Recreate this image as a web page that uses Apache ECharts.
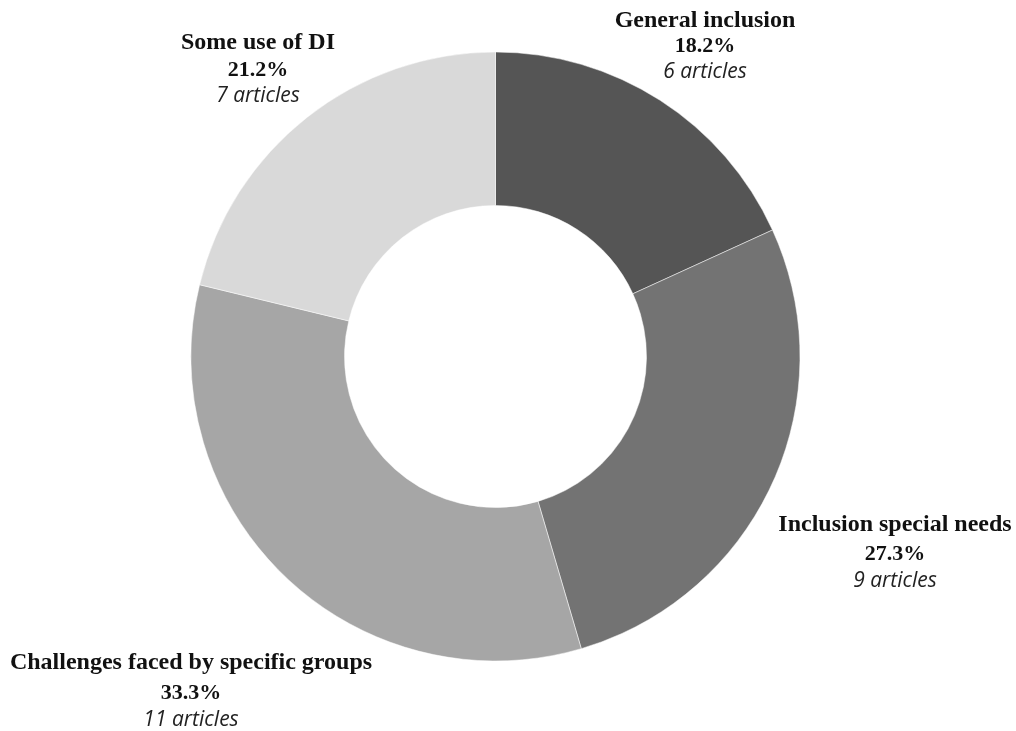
<!DOCTYPE html>
<html>
<head>
<meta charset="utf-8">
<script src="https://cdn.jsdelivr.net/npm/echarts@6/dist/echarts.min.js"></script>
<style>html,body{margin:0;padding:0;background:#fff;}#c{width:1016px;height:731px;}</style>
</head>
<body>
<div id="c"></div>
<script>
const categories = ['General inclusion', 'Inclusion special needs', 'Challenges faced by specific groups', 'Some use of DI'];
const articleCounts = [6, 9, 11, 7];
const percentLabels = ['18.2%', '27.3%', '33.3%', '21.2%'];
const sliceColors = ['#555555', '#737373', '#a6a6a6', '#d9d9d9'];
const labelSpots = [[705, 46], [895, 551], [191, 690], [258, 69]];
const lineGaps = [[27, 25], [33, 27], [32, 28], [28, 26]];

const chart = echarts.init(document.getElementById('c'), null, {renderer: 'canvas'});
const data = categories.map((name, i) => ({
  name: name,
  value: articleCounts[i],
  itemStyle: {color: sliceColors[i]},
  label: {
    rich: {
      t: {fontFamily: 'Liberation Serif', fontWeight: 'bold', fontSize: 24, color: '#111', lineHeight: lineGaps[i][0], align: 'center'},
      p: {fontFamily: 'Liberation Serif', fontWeight: 'bold', fontSize: 22, color: '#111', lineHeight: lineGaps[i][1], align: 'center'},
      a: {fontFamily: 'Open Sans', fontStyle: 'italic', fontSize: 21, color: '#222', lineHeight: 26, align: 'center'}
    }
  }
}));

chart.setOption({
  animation: false,
  series: [{
    type: 'pie',
    center: [495.5, 356.5],
    radius: [151, 304.5],
    startAngle: 90,
    clockwise: true,
    itemStyle: {borderColor: '#ffffff', borderWidth: 0.5},
    label: {
      show: true,
      position: 'outside',
      overflow: 'none',
      width: 500,
      formatter: function (p) {
        return '{t|' + p.name + '}\n{p|' + percentLabels[p.dataIndex] + '}\n{a|' + p.value + ' articles}';
      }
    },
    labelLine: {show: false},
    labelLayout: function (params) {
      const s = labelSpots[params.dataIndex];
      return {x: s[0], y: s[1], align: 'center', verticalAlign: 'middle', hideOverlap: false};
    },
    emphasis: {disabled: true},
    data: data
  }]
});
</script>
</body>
</html>
